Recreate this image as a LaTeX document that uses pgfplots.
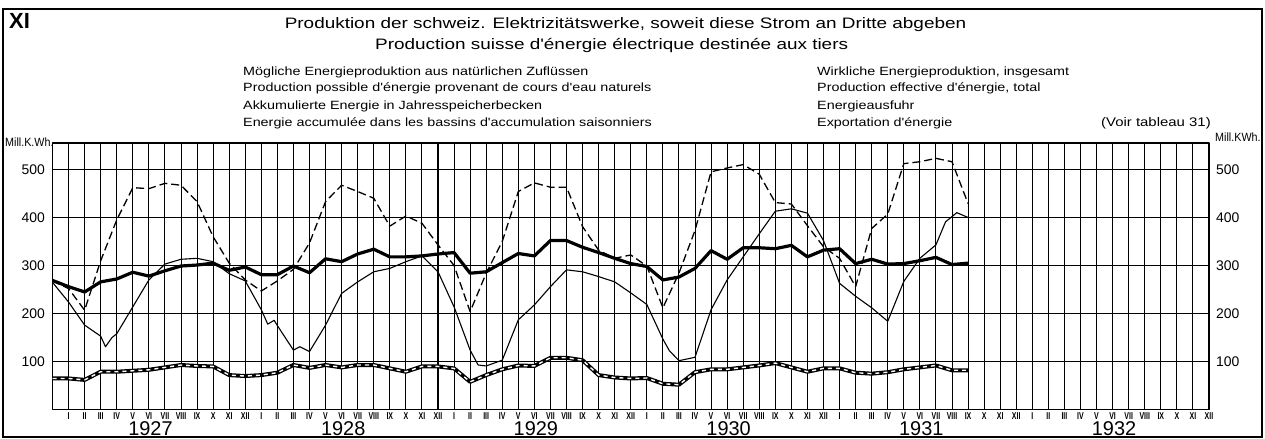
\documentclass[border=0pt]{standalone}
\usepackage{fontspec}
\setmainfont{Liberation Sans}
\newfontfamily\widefont{Liberation Sans}[FakeStretch=1.2]
\newfontfamily\titlefont{Liberation Sans}[FakeStretch=1.25]
\newfontfamily\narrowfont{Liberation Sans}[FakeStretch=0.7]
\newfontfamily\unitfont{Liberation Sans}[FakeStretch=0.9]
\usepackage{pgfplots}
\pgfplotsset{compat=1.18}

\pgfplotstableread{
x y
0 268
1 252
2 207
3 310
4 395
5 462
6 460
7 471
8 467
9 433
10 360
11 305
12 270
13 247
14 268
15 292
16 347
17 433
18 467
19 454
20 440
21 382
22 403
23 388
24 343
25 300
26 204
27 284
28 350
29 454
30 472
31 463
32 463
33 381
34 332
35 315
36 322
37 299
38 212
39 284
40 373
41 495
42 503
43 510
44 490
45 431
46 428
47 383
48 339
49 315
50 256
51 377
52 407
53 512
54 516
55 523
56 516
57 429
}\possible

\pgfplotstableread{
x y
0 269
1 256
2 245
3 266
4 272
5 286
6 278
7 289
8 299
9 301
10 305
11 290
12 297
13 281
14 281
15 299
16 285
17 314
18 308
19 324
20 334
21 318
22 318
23 320
24 324
25 327
26 284
27 287
28 306
29 325
30 320
31 352
32 352
33 338
34 327
35 315
36 304
37 298
38 270
39 276
40 294
41 331
42 313
43 337
44 337
45 335
46 342
47 318
48 332
49 335
50 304
51 313
52 303
53 304
54 310
55 317
56 302
57 305
}\actual

\pgfplotstableread{
x y
0 265
1 224
2 176
3 153
3.3 131
3.7 150
4 158
5 214
6 270
7 303
8 313
9 315
10 308
11 283
12 268
13 208
13.4 178
13.8 186
14 175
15 124
15.4 131
16 121
17 176
18 242
19 266
20 287
21 294
22 308
23 320
24 287
25 214
26 124
26.5 93
27 91
28 103
29 187
30 218
31 256
32 291
33 287
34 277
35 266
36 243
37 219
38 147
38.4 123
39 102
40 109
41 208
42 270
43 318
44 366
45 413
46 418
47 409
48 352
49 263
50 236
51 212
52 184
53 267
54 315
55 343
55.6 391
56.3 410
57 400
}\accumulated

\pgfplotstableread{
x y
0 65
1 65
2 62
3 79
4 79
5 81
6 83
7 88
8 93
9 91
10 90
11 72
12 70
13 72
14 77
15 93
16 87
17 93
18 88
19 93
20 93
21 86
22 79
23 90
24 90
25 86
26 58
27 72
28 84
29 92
30 91
31 108
32 108
33 103
34 72
35 67
36 65
37 66
38 54
39 52
40 78
41 84
42 84
43 88
44 92
45 97
46 88
47 79
48 86
49 86
50 77
51 75
52 78
53 84
54 88
55 92
56 82
57 82
}\export

\begin{document}
\begin{tikzpicture}[x=1bp,y=1bp]
\useasboundingbox (0,0) rectangle (1265,439);
% outer frame
\draw[black, line width=1.6bp] (3,2) rectangle (1262,430);

\begin{axis}[
  at={(52.5bp,29.3bp)}, anchor=south west,
  scale only axis, width=1156.5bp, height=266.7bp,
  xmin=0, xmax=72, ymin=0, ymax=555,
  xtick={1,...,72},
  xticklabels={I,II,III,IV,V,VI,VII,VIII,IX,X,XI,XII,
               I,II,III,IV,V,VI,VII,VIII,IX,X,XI,XII,
               I,II,III,IV,V,VI,VII,VIII,IX,X,XI,XII,
               I,II,III,IV,V,VI,VII,VIII,IX,X,XI,XII,
               I,II,III,IV,V,VI,VII,VIII,IX,X,XI,XII,
               I,II,III,IV,V,VI,VII,VIII,IX,X,XI,XII},
  extra x ticks={12,24,36,48,60},
  extra x tick labels={},
  extra x tick style={grid style={black, line width=1.3bp}},
  ytick={100,200,300,400,500},
  grid=major,
  grid style={black, line width=0.9bp},
  major tick length=0pt,
  axis line style={black, line width=1.3bp},
  /pgf/number format/assume math mode=true,
  yticklabel style={font=\fontsize{14}{14}\selectfont, anchor=east, inner sep=0pt, xshift=-7.5bp},
  xticklabel style={font=\narrowfont\bfseries\fontsize{10}{10}\selectfont, anchor=north, inner sep=0pt, yshift=-2.5bp},
  line join=round,
]
\addplot[black, line width=1.1bp, no markers] table[x=x,y=y] {\accumulated};
\addplot[black, line width=1.3bp, dash pattern=on 8bp off 4bp, no markers] table[x=x,y=y] {\possible};
\addplot[black, line width=3.2bp, no markers] table[x=x,y=y] {\actual};
\addplot[black, line width=4bp, no markers] table[x=x,y=y] {\export};
\addplot[white, line width=1.4bp, dash pattern=on 4bp off 4bp, no markers] table[x=x,y=y] {\export};
\end{axis}

\begin{axis}[
  at={(52.5bp,29.3bp)}, anchor=south west,
  scale only axis, width=1156.5bp, height=266.7bp,
  xmin=0, xmax=72, ymin=0, ymax=555,
  axis y line*=right, axis x line=none,
  ytick={100,200,300,400,500},
  major tick length=0pt,
  axis line style={black, line width=1.3bp},
  /pgf/number format/assume math mode=true,
  yticklabel style={font=\fontsize{14}{14}\selectfont, anchor=west, inner sep=0pt, xshift=7bp},
]
\addplot[draw=none] coordinates {(0,0)};
\end{axis}

% year labels
\foreach \yr [count=\i from 0] in {1927,1928,1929,1930,1931,1932}
  \node[font=\fontsize{20}{20}\selectfont, anchor=base, inner sep=0pt] at (150.5+192.7*\i,3.5) {\yr};

% axis unit labels
\node[anchor=base west, font=\unitfont\fontsize{12}{12}\selectfont, inner sep=0pt] at (5,292.5) {Mill.K.Wh.};
\node[anchor=base west, font=\unitfont\fontsize{12}{12}\selectfont, inner sep=0pt] at (1215,297) {Mill.KWh.};

% header
\node[anchor=base west, font=\fontsize{22}{22}\selectfont\bfseries, inner sep=0pt] at (9,410) {XI};
\node[anchor=base, font=\titlefont\fontsize{15.2}{15.2}\selectfont, inner sep=0pt] at (625.5,410.7) {Produktion der schweiz. Elektrizitätswerke, soweit diese Strom an Dritte abgeben};
\node[anchor=base west, font=\titlefont\fontsize{15.2}{15.2}\selectfont, inner sep=0pt] at (375,389) {Production suisse d'énergie électrique destinée aux tiers};

% legend texts
\begin{scope}[every node/.style={anchor=base west, font=\widefont\fontsize{12}{12}\selectfont, inner sep=0pt}]
\node at (243,363) {Mögliche Energieproduktion aus natürlichen Zuflüssen};
\node at (243,347.3) {Production possible d'énergie provenant de cours d'eau naturels};
\node at (243,329) {Akkumulierte Energie in Jahresspeicherbecken};
\node at (243,312.3) {Energie accumulée dans les bassins d'accumulation saisonniers};
\node at (817,363) {Wirkliche Energieproduktion, insgesamt};
\node at (817,347.3) {Production effective d'énergie, total};
\node at (817,329) {Energieausfuhr};
\node at (817,312.3) {Exportation d'énergie};
\end{scope}
\node[anchor=base east, font=\widefont\fontsize{12.5}{12.5}\selectfont, inner sep=0pt] at (1211,312.3) {(Voir tableau 31)};
\end{tikzpicture}
\end{document}
